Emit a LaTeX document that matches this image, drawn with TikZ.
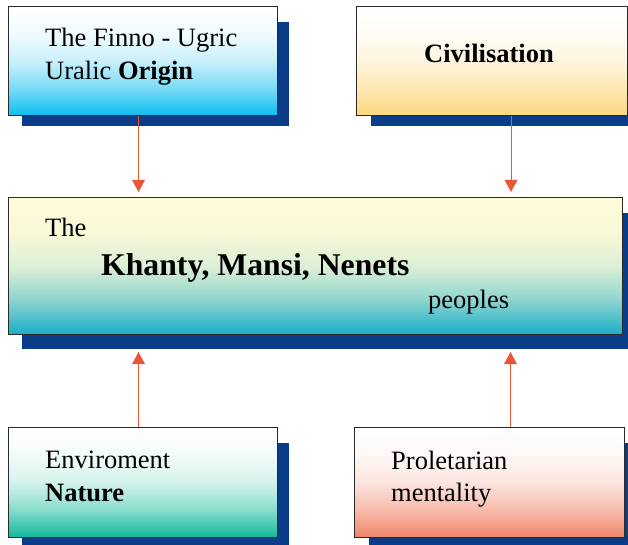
\documentclass[tikz,border=0pt]{standalone}
\usepackage{fontspec}
\setmainfont{Liberation Serif}
\usetikzlibrary{arrows.meta}
\definecolor{shadowc}{HTML}{0A3C87}
\definecolor{cCyan}{HTML}{0DBDEF}
\definecolor{cGold}{HTML}{FCD77F}
\definecolor{cTeal}{HTML}{1AADC7}
\definecolor{cYel}{HTML}{FFFBD8}
\definecolor{cGreen}{HTML}{10B99A}
\definecolor{cSalmon}{HTML}{F08468}
\definecolor{cArrow}{HTML}{E8573A}
\definecolor{cBorder}{HTML}{2A2A2A}
\pgfdeclareverticalshading{shTL}{100bp}{color(0bp)=(cCyan); color(25bp)=(cCyan); color(37.5bp)=(cCyan!55!white); color(50bp)=(cCyan!22!white); color(62.5bp)=(cCyan!6!white); color(75bp)=(white); color(100bp)=(white)}
\pgfdeclareverticalshading{shTR}{100bp}{color(0bp)=(cGold); color(25bp)=(cGold); color(37.5bp)=(cGold!60!white); color(50bp)=(cGold!25!white); color(62.5bp)=(cGold!8!white); color(75bp)=(white); color(100bp)=(white)}
\pgfdeclareverticalshading{shMID}{100bp}{color(0bp)=(cTeal); color(25bp)=(cTeal); color(37.5bp)=(cTeal!50!cYel); color(50bp)=(cTeal!15!cYel); color(62.5bp)=(cTeal!3!cYel); color(75bp)=(cYel); color(100bp)=(cYel)}
\pgfdeclareverticalshading{shBL}{100bp}{color(0bp)=(cGreen); color(25bp)=(cGreen); color(37.5bp)=(cGreen!50!white); color(50bp)=(cGreen!18!white); color(62.5bp)=(cGreen!5!white); color(75bp)=(white); color(100bp)=(white)}
\pgfdeclareverticalshading{shBR}{100bp}{color(0bp)=(cSalmon); color(25bp)=(cSalmon); color(37.5bp)=(cSalmon!55!white); color(50bp)=(cSalmon!22!white); color(62.5bp)=(cSalmon!6!white); color(75bp)=(white); color(100bp)=(white)}
\tikzset{
  box/.style={draw=cBorder, line width=1bp, shade, rectangle, anchor=north west, inner sep=0pt},
  smallbox/.style={box, minimum width=269bp, minimum height=109bp},
  txt/.style={anchor=base west, inner sep=0pt, font=\fontsize{26.5bp}{32bp}\selectfont},
  bigtxt/.style={anchor=base west, inner sep=0pt, font=\fontsize{31.7bp}{38bp}\selectfont\bfseries},
  arr/.style={draw=cArrow, line width=1bp, -{Triangle[width=12.7bp,length=12bp,fill=cArrow]}},
  shad/.style={fill=shadowc}
}
\begin{document}
\begin{tikzpicture}[x=1bp,y=-1bp]
\useasboundingbox (0,0) rectangle (628,545);
% shadows
\fill[shad] (22,22) rectangle (289,126);
\fill[shad] (371,22) rectangle (640,126);
\fill[shad] (22,213) rectangle (640,349);
\fill[shad] (22,443) rectangle (289,560);
\fill[shad] (369,443) rectangle (640,560);
% boxes
\node[smallbox, shading=shTL] (tl) at (8,6) {};
\node[smallbox, shading=shTR, minimum width=271bp] (tr) at (356,6) {};
\node[box, shading=shMID, minimum width=614bp, minimum height=137bp] (mid) at (8,197) {};
\node[smallbox, shading=shBL, minimum height=110bp] (bl) at (8,427) {};
\node[smallbox, shading=shBR, minimum width=270bp, minimum height=110bp] (br) at (354,427) {};
% texts
\node[txt] (tl1) at (45,47) {The Finno - Ugric};
\node[txt] (tl2) at (45,80) {Uralic \textbf{Origin}};
\node[txt, anchor=base] (tr1) at (489,63) {\textbf{Civilisation}};
\node[txt] (m1) at (45,237) {The};
\node[bigtxt] (m2) at (101,275) {Khanty, Mansi, Nenets};
\node[txt] (m3) at (428,308) {peoples};
\node[txt] (bl1) at (45,468) {Enviroment};
\node[txt] (bl2) at (45,501) {\textbf{Nature}};
\node[txt] (br1) at (391,469) {Proletarian};
\node[txt] (br2) at (391,501) {mentality};
% connectors
\draw[arr, shorten >=5bp] ([xshift=-4.5bp]tl.south) -- ([xshift=-4.5bp]tl.south |- mid.north);
\draw[arr, shorten >=5bp] ([xshift=19bp]tr.south) -- ([xshift=19bp]tr.south |- mid.north);
\draw[arr, shorten >=17bp] ([xshift=-4.5bp]bl.north) -- ([xshift=-4.5bp]bl.north |- mid.south);
\draw[arr, shorten >=17bp] ([xshift=21bp]br.north) -- ([xshift=21bp]br.north |- mid.south);
\end{tikzpicture}
\end{document}
